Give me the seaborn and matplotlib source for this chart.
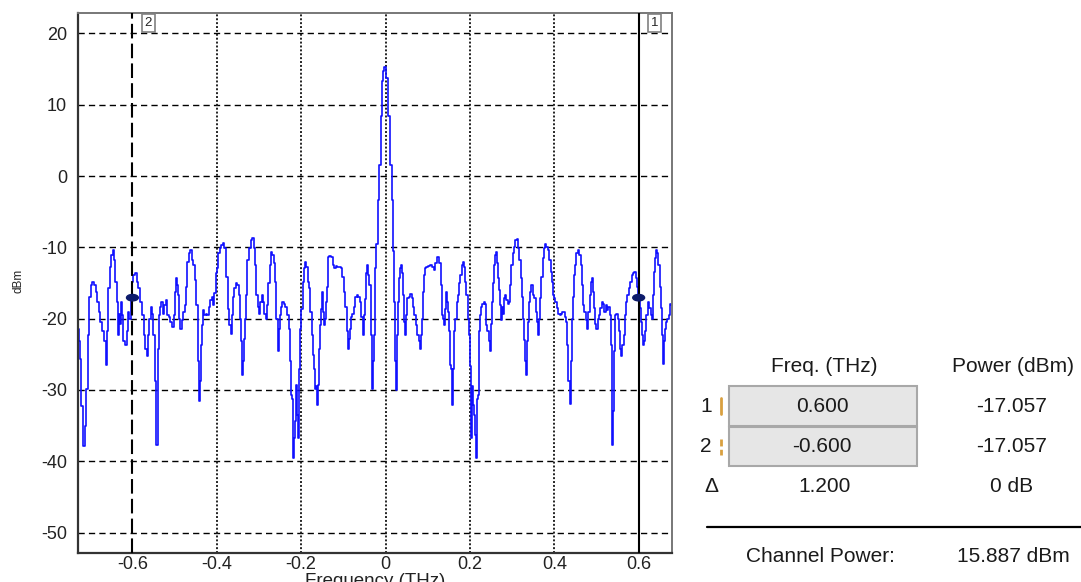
import matplotlib
matplotlib.use('Agg')
import matplotlib.pyplot as plt
import seaborn as sns
import pandas as pd
from matplotlib.patches import Rectangle, Ellipse
from matplotlib.lines import Line2D

freq_a = [-0.728, -0.725, -0.723, -0.719, -0.715, -0.711, -0.707, -0.704, -0.701, -0.697,
          -0.693, -0.689, -0.685, -0.681, -0.678, -0.674, -0.669, -0.665, -0.662, -0.659,
          -0.655, -0.652, -0.649, -0.645, -0.642, -0.639, -0.636, -0.633, -0.631, -0.628,
          -0.625, -0.623, -0.620, -0.616, -0.612, -0.610, -0.606, -0.603, -0.599, -0.596,
          -0.592, -0.588, -0.584, -0.580, -0.575, -0.571, -0.568, -0.565, -0.563, -0.559,
          -0.555, -0.552, -0.549, -0.546, -0.544, -0.542, -0.539, -0.537, -0.533, -0.530,
          -0.527, -0.523, -0.520, -0.516, -0.512, -0.508, -0.504, -0.500, -0.497, -0.495,
          -0.492]
power_a = [-21.5, -23.2, -25.6, -32.3, -37.9, -35.1, -29.8, -22.3, -16.9, -15.3,
           -14.8, -15.3, -16.2, -17.6, -19.0, -20.4, -21.8, -23.2, -26.5, -21.8,
           -15.7, -12.7, -11.1, -10.4, -11.8, -14.8, -17.6, -22.3, -19.3, -20.7,
           -17.6, -19.5, -23.2, -23.7, -21.8, -19.0, -20.0, -17.1, -14.8, -13.9,
           -13.6, -14.8, -15.7, -17.6, -19.5, -22.3, -24.2, -25.3, -22.3, -20.0,
           -18.3, -19.3, -22.3, -28.8, -33.0, -37.7, -24.2, -19.5, -18.3, -17.6,
           -19.3, -18.1, -17.4, -19.5, -19.7, -20.4, -21.1, -19.5, -16.2, -14.3,
           -15.3]

freq_b = [-0.491, -0.488, -0.485, -0.482, -0.478, -0.474, -0.471, -0.468, -0.464, -0.461,
          -0.458, -0.454, -0.450, -0.447, -0.444, -0.442, -0.440, -0.437, -0.434, -0.431,
          -0.428, -0.425, -0.421, -0.417, -0.414, -0.410, -0.407, -0.404, -0.402, -0.399,
          -0.395, -0.391, -0.387, -0.384, -0.380, -0.376, -0.372, -0.369, -0.366, -0.363,
          -0.360, -0.357, -0.354, -0.350, -0.347, -0.344, -0.342, -0.339, -0.337, -0.335,
          -0.331, -0.329, -0.326, -0.322, -0.318, -0.314, -0.311, -0.308, -0.305, -0.301,
          -0.298, -0.295, -0.292, -0.289, -0.286, -0.282, -0.279, -0.276, -0.273, -0.270,
          -0.267, -0.263, -0.260, -0.257, -0.255]
power_b = [-16.7, -20.0, -21.4, -20.2, -19.0, -18.1, -15.5, -12.0, -10.8, -10.4,
           -11.8, -12.5, -14.6, -18.1, -26.0, -31.6, -28.8, -23.7, -20.9, -18.8,
           -19.5, -19.3, -19.5, -18.3, -17.4, -16.9, -18.1, -16.4, -13.6, -12.9,
           -10.8, -10.1, -9.7, -9.4, -10.1, -14.1, -18.6, -20.9, -22.1, -19.5,
           -16.9, -15.7, -15.0, -15.3, -16.7, -20.0, -23.2, -27.9, -26.0, -22.8,
           -20.0, -16.7, -11.8, -10.1, -9.0, -8.7, -10.1, -12.5, -16.7, -18.3,
           -19.3, -17.6, -16.7, -17.6, -19.3, -20.0, -18.1, -15.0, -12.5, -10.6,
           -11.1, -12.2, -14.8, -20.0, -24.6]

freq_c = [-0.251, -0.248, -0.246, -0.243, -0.240, -0.235, -0.231, -0.227, -0.224, -0.222,
          -0.221, -0.219, -0.217, -0.214, -0.212, -0.210, -0.207, -0.205, -0.203, -0.201,
          -0.198, -0.195, -0.192, -0.189, -0.186, -0.183, -0.180, -0.176, -0.173, -0.171,
          -0.168, -0.166, -0.164, -0.161, -0.159, -0.157, -0.154, -0.152, -0.149, -0.147,
          -0.145, -0.142, -0.140, -0.138, -0.135, -0.131, -0.127, -0.124, -0.121, -0.116,
          -0.112, -0.107, -0.104, -0.101, -0.097, -0.094, -0.091, -0.089, -0.086, -0.083,
          -0.080, -0.077, -0.074, -0.070, -0.067, -0.063, -0.059, -0.056, -0.053, -0.051,
          -0.048, -0.045, -0.042, -0.040, -0.037, -0.034, -0.032, -0.029, -0.027, -0.025,
          -0.023]
power_c = [-21.4, -19.5, -18.3, -17.6, -17.9, -18.3, -19.5, -21.4, -26.0, -30.7,
           -31.2, -39.6, -36.8, -34.4, -29.3, -33.5, -36.8, -33.0, -27.0, -21.4,
           -18.6, -14.8, -12.9, -12.0, -12.7, -14.8, -15.7, -19.0, -22.3, -25.1,
           -27.0, -29.8, -29.5, -32.1, -29.3, -24.2, -20.9, -18.6, -16.2, -19.0,
           -20.9, -20.0, -17.6, -15.5, -11.3, -11.2, -11.3, -12.5, -12.9, -12.6,
           -12.7, -12.7, -12.9, -14.1, -16.2, -18.3, -21.8, -24.2, -22.8, -21.4,
           -19.7, -19.3, -18.3, -16.9, -16.7, -16.9, -17.6, -19.7, -22.3, -19.5,
           -17.2, -13.6, -12.5, -13.9, -15.3, -22.3, -29.8, -26.0, -22.3, -17.6,
           -12.9]

# pic central
freq_peak = [-0.021, -0.017, -0.013, -0.0105, -0.0085, -0.005, -0.001, 0.003, 0.008, 0.012, 0.017, 0.0197]
power_peak = [-9.6, -3.3, 1.6, 8.4, 13.3, 14.7, 15.3, 13.8, 8.4, 1.6, -3.3, -10.5]

freq_d = [0.022, 0.024, 0.0252, 0.0276, 0.030, 0.033, 0.036, 0.039, 0.041, 0.043,
          0.046, 0.048, 0.050, 0.053, 0.057, 0.061, 0.064, 0.067, 0.070, 0.073,
          0.077, 0.080, 0.083, 0.085, 0.088, 0.090, 0.092, 0.095, 0.099, 0.103,
          0.108, 0.112, 0.116, 0.120, 0.122, 0.126, 0.129, 0.132, 0.134, 0.137,
          0.139, 0.142, 0.144, 0.147, 0.149, 0.152, 0.154, 0.156, 0.159, 0.161,
          0.163, 0.167, 0.170, 0.173, 0.176, 0.179, 0.182, 0.185, 0.187, 0.190,
          0.193, 0.196, 0.198, 0.200, 0.203, 0.205, 0.208, 0.211, 0.213, 0.215,
          0.218, 0.220, 0.223, 0.225, 0.228, 0.231, 0.234, 0.238]
power_d = [-17.6, -26.0, -30.0, -22.3, -17.6, -14.3, -12.9, -12.5, -13.6, -16.7,
           -20.4, -22.3, -19.5, -17.1, -16.9, -16.6, -17.1, -18.3, -19.5, -20.9,
           -22.3, -23.2, -24.2, -22.3, -20.0, -16.2, -13.9, -12.9, -12.7, -12.6,
           -12.5, -12.8, -13.2, -12.2, -11.3, -11.3, -12.2, -15.3, -19.5, -20.0,
           -20.9, -18.6, -16.2, -17.6, -19.0, -21.8, -26.5, -27.0, -32.1, -27.0,
           -21.8, -20.0, -17.6, -16.7, -15.0, -13.9, -12.5, -12.0, -12.7, -14.8,
           -16.7, -20.0, -22.3, -26.7, -36.8, -29.5, -32.1, -33.5, -36.3, -39.6,
           -31.2, -30.7, -21.8, -19.5, -18.3, -17.9, -17.6, -17.9]

freq_e = [0.240, 0.243, 0.246, 0.248, 0.250, 0.253, 0.255, 0.258, 0.261, 0.263,
          0.265, 0.269, 0.271, 0.273, 0.276, 0.278, 0.280, 0.283, 0.285, 0.288,
          0.292, 0.294, 0.296, 0.299, 0.303, 0.306, 0.309, 0.312, 0.315, 0.318,
          0.322, 0.324, 0.326, 0.329, 0.331, 0.333, 0.336, 0.338, 0.341, 0.343,
          0.346, 0.349, 0.352, 0.354, 0.357, 0.360, 0.363, 0.365, 0.368, 0.371,
          0.374, 0.377, 0.380, 0.383, 0.386, 0.389, 0.393, 0.396, 0.398, 0.401,
          0.404, 0.408, 0.411, 0.414, 0.417, 0.420, 0.423, 0.427, 0.430, 0.432,
          0.435, 0.438, 0.440, 0.442, 0.445, 0.448, 0.451, 0.454, 0.457, 0.461,
          0.464, 0.466, 0.469, 0.472, 0.476]
power_e = [-20.9, -21.8, -23.2, -24.6, -20.7, -17.6, -15.0, -12.5, -11.1, -10.6,
           -12.2, -14.3, -16.0, -18.1, -20.2, -18.3, -19.3, -17.1, -16.7, -17.4,
           -17.9, -17.6, -15.3, -12.5, -10.8, -9.9, -9.0, -8.8, -10.1, -11.8,
           -14.3, -16.9, -20.0, -23.0, -26.0, -27.9, -23.2, -20.4, -17.6, -16.2,
           -15.3, -15.3, -16.7, -17.1, -19.0, -20.4, -22.3, -20.0, -17.1, -14.1,
           -11.5, -10.1, -9.6, -9.9, -10.4, -11.8, -13.4, -14.8, -16.7, -17.1,
           -17.6, -18.5, -19.3, -19.5, -19.3, -19.0, -19.0, -19.7, -20.4, -23.7,
           -28.8, -31.9, -26.0, -20.0, -16.9, -13.9, -12.5, -10.8, -10.4, -11.1,
           -12.5, -15.3, -18.1, -19.0, -20.2]

freq_f = [0.479, 0.482, 0.485, 0.488, 0.491, 0.493, 0.496, 0.499, 0.501, 0.504,
          0.507, 0.511, 0.514, 0.517, 0.520, 0.523, 0.526, 0.530, 0.533, 0.535,
          0.537, 0.538, 0.541, 0.543, 0.545, 0.549, 0.552, 0.555, 0.558, 0.560,
          0.563, 0.566, 0.569, 0.572, 0.575, 0.578, 0.582, 0.585, 0.588, 0.591,
          0.594, 0.597, 0.601, 0.604, 0.606, 0.609, 0.611, 0.614, 0.617, 0.620,
          0.624, 0.627, 0.630, 0.633, 0.635, 0.638, 0.640, 0.642, 0.645, 0.648,
          0.651, 0.654, 0.657, 0.658, 0.661, 0.663, 0.666, 0.669, 0.673, 0.676,
          0.678]
power_f = [-21.4, -19.0, -16.7, -14.8, -14.3, -16.2, -18.5, -20.7, -21.4, -20.0,
           -19.5, -18.5, -17.6, -17.9, -19.0, -18.1, -18.8, -18.3, -19.5, -23.7,
           -28.8, -37.7, -33.0, -24.6, -19.5, -19.3, -20.0, -21.8, -24.2, -25.3,
           -23.7, -22.3, -19.5, -17.6, -16.7, -15.7, -14.8, -13.9, -13.6, -13.5,
           -14.3, -15.5, -17.1, -18.5, -20.4, -22.3, -23.7, -23.2, -21.8, -19.5,
           -17.6, -18.5, -19.5, -20.0, -16.7, -13.4, -11.5, -10.4, -10.8, -12.5,
           -15.5, -18.5, -22.3, -26.3, -23.2, -21.4, -20.4, -20.0, -19.5, -17.9,
           -18.1]

# Marqueurs et tableau
marker_ids = ['1', '2']
marker_freq = [0.600, -0.600]
marker_power = [-17.057, -17.057]
delta_freq = '1.200'
delta_power = '0 dB'
channel_power = '15.887 dBm'

xticks = [-0.6, -0.4, -0.2, 0, 0.2, 0.4, 0.6]
xtick_labels = ['-0.6', '-0.4', '-0.2', '0', '0.2', '0.4', '0.6']
yticks = [20, 10, 0, -10, -20, -30, -40, -50]

spectre = pd.DataFrame({
    'freq': freq_a + freq_b + freq_c + freq_peak + freq_d + freq_e + freq_f,
    'power': power_a + power_b + power_c + power_peak + power_d + power_e + power_f,
})

sns.set_style('white')
plt.rcParams['font.family'] = ['Liberation Sans', 'DejaVu Sans']
plt.rcParams['axes.unicode_minus'] = False

W, H = 1081, 582
fig = plt.figure(figsize=(W / 100, H / 100), dpi=100)
ax = fig.add_axes([78 / W, 1 - 553.3 / H, (672 - 78) / W, (553.3 - 12.7) / H])

# Grille : tirets horizontaux, pointillés verticaux
for v in yticks:
    ax.axhline(v, color='black', lw=1.0, ls=(0, (4.5, 3)), zorder=1)
for v in xticks:
    if abs(v) < 0.5:
        ax.axvline(v, color='#222222', lw=1.4, ls=(0, (1, 1)), zorder=1)

sns.lineplot(data=spectre, x='freq', y='power', ax=ax, color='#1010ff', lw=1.2,
             drawstyle='steps-mid', estimator=None, sort=False, zorder=2)

# Lignes des marqueurs
ax.axvline(marker_freq[0], color='black', lw=1.5, zorder=3)
ax.axvline(marker_freq[1], color='black', lw=1.5, ls=(0, (7, 2.5)), zorder=3)
for f, p in zip(marker_freq, marker_power):
    ax.add_patch(Ellipse((f, p), 0.028, 0.9, color='#0d1b6b', zorder=4))
for mid, f in zip(marker_ids, marker_freq):
    ax.text(f + 0.038, 21.5, mid, fontsize=9.5, ha='center', va='center', zorder=5,
            bbox=dict(boxstyle='square,pad=0.22', fc='white', ec='#808080', lw=1.2))

ax.set_xlim(-0.729, 0.679)
ax.set_ylim(-52.9, 22.9)
ax.set_xticks(xticks)
ax.set_xticklabels(xtick_labels)
ax.set_yticks(yticks)
ax.set_xlabel('')
ax.set_ylabel('')
ax.tick_params(axis='both', length=0, labelsize=13, colors='#222222')
ax.tick_params(axis='x', pad=2)
ax.tick_params(axis='y', pad=8)
for side in ['left', 'bottom']:
    ax.spines[side].set_color('#333333')
    ax.spines[side].set_linewidth(1.6)
for side in ['top', 'right']:
    ax.spines[side].set_color('#777777')
    ax.spines[side].set_linewidth(1.4)

fig.text(19 / W, 1 - 281 / H, 'dBm', rotation=90, fontsize=8.5, ha='center', va='center', color='#222222')
fig.text(375 / W, 1 - 573 / H, 'Frequency (THz)', fontsize=13.5, ha='center', va='top', color='#222222')

# Tableau à droite
txt = dict(fontsize=15, ha='center', va='center', color='#1a1a1a')
fig.text(824 / W, 1 - 366 / H, 'Freq. (THz)', **txt)
fig.text(1013 / W, 1 - 366 / H, 'Power (dBm)', **txt)
for i, (top, bot) in enumerate([(386, 426), (427, 466)]):
    fig.add_artist(Rectangle((729 / W, 1 - bot / H), (917 - 729) / W, (bot - top) / H,
                             transform=fig.transFigure, fc='#e6e6e6', ec='#a8a8a8', lw=1.5))
    yc = (top + bot) / 2
    fig.text(706 / W, 1 - yc / H, marker_ids[i], **txt)
    fig.add_artist(Line2D([721 / W, 721 / W], [1 - (yc - 8) / H, 1 - (yc + 8) / H],
                          transform=fig.transFigure, color='#d9a040', lw=2,
                          ls='-' if i == 0 else (0, (2.5, 1.2))))
    fig.text(822 / W, 1 - yc / H, '%.3f' % marker_freq[i], **txt)
    fig.text(1012 / W, 1 - yc / H, '%.3f' % marker_power[i], **txt)
fig.text(711 / W, 1 - 487 / H, 'Δ', **txt)
fig.text(825 / W, 1 - 487 / H, delta_freq, **txt)
fig.text(1012 / W, 1 - 487 / H, delta_power, **txt)
fig.add_artist(Line2D([707 / W, 1.0], [1 - 527 / H, 1 - 527 / H], transform=fig.transFigure,
                      color='black', lw=1.6))
fig.text(820 / W, 1 - 557 / H, 'Channel Power:', **txt)
fig.text(1013 / W, 1 - 557 / H, channel_power, **txt)

fig.savefig('out.png', dpi=100)
plt.close(fig)
